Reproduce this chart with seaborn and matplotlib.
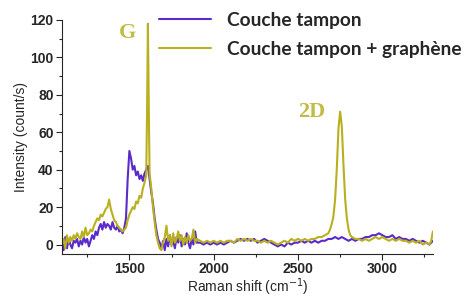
import matplotlib
matplotlib.use("Agg")
import matplotlib.pyplot as plt
import pandas as pd
import seaborn as sns
from matplotlib.ticker import MultipleLocator

# spectre Raman : couche tampon seule
shift_tampon = list(range(1100, 1910, 10)) + list(range(1920, 3320, 20))
int_tampon = [
    2, -3, 4, -2, 3, 0, -2, 2, 1, 3, -1, 2, 0, 4, 1, 3, -1, 2, 5, 3,
    7, 5, 9, 11, 8, 12, 9, 11, 10, 8, 12, 9, 8, 10, 7, 8, 6, 9, 14, 35,
    50, 46, 40, 42, 37, 39, 35, 37, 34, 38, 40, 42, 35, 28, 22, 14, 8, 3, 1, -2,
    2, -3, 3, -1, 5, 0, 2, -2, 4, 1, 5, -1, 3, 0, 6, 1, -2, 3, 0, 7,
    1,
    1, 0, 1, 0, 1, 0, 1, 0, 1, 2, 1, 2, 3, 2, 3, 2, 3, 1, 2, 3,
    2, 1, 0, -1, 0, -1, 1, 0, 1, 1, 2, 1, 2, 1, 2, 1, 2, 2, 3, 3,
    4, 3, 4, 3, 2, 3, 2, 3, 3, 4, 4, 5, 5, 6, 5, 4, 4, 5, 3, 4,
    3, 3, 2, 3, 2, 1, 2, 1, 0, 2,
]

# spectre Raman : couche tampon + graphene
shift_graph = (list(range(1100, 1610, 10)) + [1605, 1610, 1615]
               + list(range(1620, 1910, 10)) + list(range(1920, 2680, 20))
               + list(range(2680, 2830, 10)) + list(range(2840, 3300, 20))
               + [3290, 3300])
shift_graph = sorted(shift_graph)
int_graph = [
    0, 3, -2, 5, 1, 4, 2, 5, 3, 6, 4, 3, 7, 4, 9, 5, 6, 8, 7, 10,
    12, 14, 13, 16, 15, 17, 19, 20, 24, 19, 16, 13, 12, 10, 9, 8, 7, 8, 9, 13,
    16, 18, 20, 19, 23, 22, 26, 25, 30, 33, 37, 70, 118, 75, 38, 30, 20, 12, 5, 1,
    -2, -3, 1, 4, 10, 2, 5, -1, 6, 1, 3, 7, 2, 5, 0, 4, 1, 5, 2, 3,
    8, 1, 3,
    2, 1, 2, 1, 2, 1, 2, 1, 2, 2, 1, 3, 2, 3, 2, 3, 2, 2, 1, 2,
    1, 2, 1, 0, 1, 2, 1, 3, 2, 3, 2, 3, 2, 3, 3, 4, 4, 5,
    6, 8, 11, 15, 24, 40, 62, 71, 63, 42, 24, 14, 8, 5, 4,
    3, 3, 2, 3, 2, 3, 4, 3, 4, 3, 2, 3, 2, 3, 2, 2, 1, 2, 1, 2,
    0, 1, 0, 2, 7,
]

labels = ["Couche tampon", "Couche tampon + graphène"]
couleurs = ["#5a2bc8", "#b8b01e"]

df = pd.concat([
    pd.DataFrame({"shift": shift_tampon, "intensite": int_tampon, "echantillon": labels[0]}),
    pd.DataFrame({"shift": shift_graph, "intensite": int_graph, "echantillon": labels[1]}),
])

sns.set_style("ticks")
plt.rcParams["font.family"] = ["Liberation Sans", "DejaVu Sans"]

fig = plt.figure(figsize=(4.69, 2.98), dpi=100)
ax = fig.add_axes([0.132, 0.148, 0.791, 0.785])

sns.lineplot(data=df, x="shift", y="intensite", hue="echantillon",
             palette=couleurs, estimator=None, linewidth=1.5, ax=ax)

ax.set_xlim(1100, 3300)
ax.set_ylim(-5, 120)
ax.xaxis.set_major_locator(MultipleLocator(500))
ax.xaxis.set_minor_locator(MultipleLocator(250))
ax.yaxis.set_major_locator(MultipleLocator(20))
ax.yaxis.set_minor_locator(MultipleLocator(10))
ax.tick_params(which="major", length=4, width=0.8, labelsize=10, pad=2)
ax.tick_params(which="minor", length=2.5, width=0.8)
for t in ax.get_xticklabels() + ax.get_yticklabels():
    t.set_fontweight("bold")
sns.despine(ax=ax)

ax.set_xlabel("Raman shift (cm$^{-1}$)", fontsize=10, labelpad=0)
ax.set_ylabel("Intensity (count/s)", fontsize=10, labelpad=2)

# etiquettes des pics
ax.text(1490, 113, "G", family=["Liberation Serif"], fontweight="bold",
        fontsize=16, color="#c2bb45", ha="center", va="center")
ax.text(2580, 71, "2D", family=["Liberation Serif"], fontweight="bold",
        fontsize=16, color="#c2bb45", ha="center", va="center")

leg = ax.legend(loc="upper left", bbox_to_anchor=(159 / 469, 1 - 12 / 298),
                bbox_transform=fig.transFigure, frameon=False,
                borderpad=0, borderaxespad=0, handlelength=2.7,
                handletextpad=0.85, labelspacing=0.6,
                prop={"family": "Lato", "weight": "bold", "size": 13.8})
for line in leg.get_lines():
    line.set_linewidth(1.5)

fig.savefig("out.png", dpi=100)
